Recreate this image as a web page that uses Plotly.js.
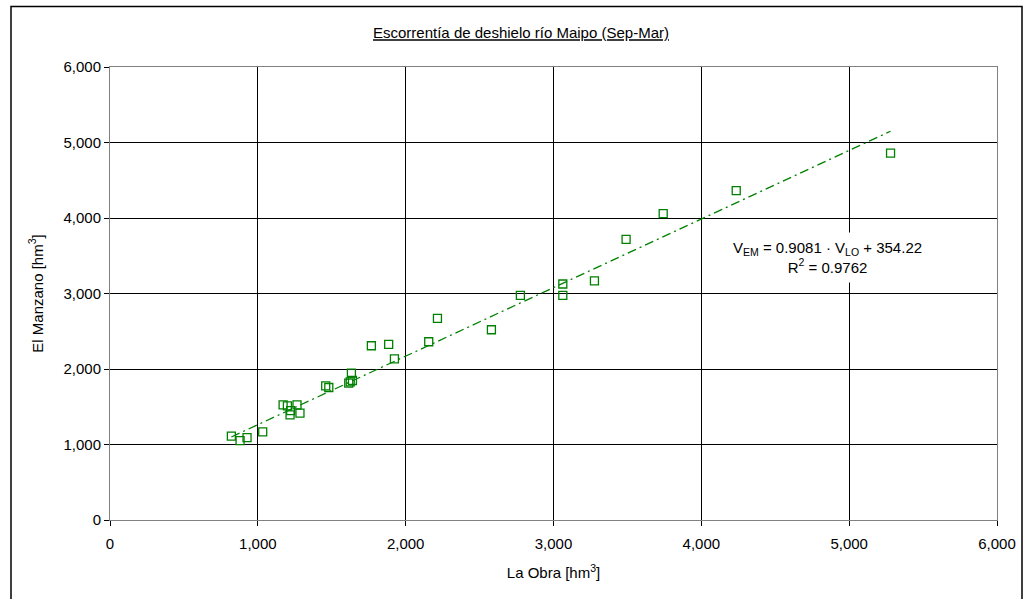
<!DOCTYPE html>
<html>
<head>
<meta charset="utf-8">
<script src="https://cdn.plot.ly/plotly-3.0.1.min.js"></script>
<style>html,body{margin:0;padding:0;background:#fff;}#chart{width:1033px;height:599px;}</style>
</head>
<body>
<div id="chart"></div>
<script>
// Data (hm³)
const laObra    = [821, 880, 927, 1033, 1171, 1200, 1265, 1218, 1222, 1285, 1459, 1480, 1615, 1625, 1640, 1633, 1768, 1885, 1924, 2156, 2215, 2580, 2776, 3063, 3063, 3277, 3491, 3742, 4236, 5280];
const elManzano = [1110, 1052, 1092, 1167, 1525, 1512, 1525, 1393, 1450, 1415, 1777, 1755, 1813, 1830, 1848, 1945, 2308, 2325, 2135, 2361, 2670, 2520, 2975, 3126, 2975, 3166, 3718, 4058, 4363, 4858];
const slope = 0.9081;
const intercept = 354.22;
const tickVals = [0, 1000, 2000, 3000, 4000, 5000, 6000];
const tickText = ['0', '1,000', '2,000', '3,000', '4,000', '5,000', '6,000'];

const xMin = Math.min(...laObra), xMax = Math.max(...laObra);
const trendX = [xMin, xMax];
const trendY = trendX.map(v => slope * v + intercept);

const green = '#008000';
const fam = 'Liberation Sans, Arial, sans-serif';
const font = {family: fam, size: 15, color: '#000'};

const traces = [
  {
    x: trendX, y: trendY, mode: 'lines', type: 'scatter',
    line: {color: green, width: 1.3, dash: '9px,4px,2px,4px'},
    hoverinfo: 'skip', showlegend: false
  },
  {
    x: laObra, y: elManzano, mode: 'markers', type: 'scatter',
    marker: {symbol: 'square-open', size: 8, color: green, line: {color: green, width: 1.3}},
    showlegend: false
  }
];

const axisCommon = {
  range: [0, 6000], tickvals: tickVals, ticktext: tickText,
  showgrid: true, gridcolor: '#000', gridwidth: 1,
  zeroline: false, showline: true, mirror: true, linecolor: '#808080', linewidth: 1,
  ticks: 'outside', ticklen: 5, tickcolor: '#000', tickfont: font, automargin: false
};

const layout = {
  width: 1033, height: 599,
  margin: {l: 110, r: 36, t: 67, b: 79},
  paper_bgcolor: '#fff', plot_bgcolor: '#fff',
  font: font,
  title: {
    text: '<u>Escorrentía de deshielo río Maipo (Sep-Mar)</u>',
    font: {family: fam, size: 15, color: '#000'},
    x: 521 / 1033, xref: 'container', xanchor: 'center', y: 1 - 33/599, yanchor: 'middle'
  },
  xaxis: Object.assign({}, axisCommon, {
    ticklabelstandoff: 5,
    title: {text: 'La Obra [hm<sup>3</sup>]', font: font, standoff: 16}
  }),
  yaxis: Object.assign({}, axisCommon, {
    title: {text: 'El Manzano [hm<sup>3</sup>]', font: font, standoff: 16}
  }),
  annotations: [{
    x: 4851, y: 3480, xref: 'x', yref: 'y',
    text: 'V<sub>EM</sub> = 0.9081 · V<sub>LO</sub> + 354.22<br>R<sup>2</sup> = 0.9762',
    showarrow: false, align: 'center', bgcolor: '#fff', borderpad: 6,
    font: {family: fam, size: 15, color: '#000'}
  }],
  shapes: [{
    type: 'rect', xref: 'paper', yref: 'paper',
    x0: (11 - 110) / 887, x1: (1022 - 110) / 887,
    y0: (520 - 610) / 453, y1: (520 - 6.5) / 453,
    line: {color: '#000', width: 1.5}, fillcolor: 'rgba(0,0,0,0)', layer: 'below'
  }]
};

Plotly.newPlot('chart', traces, layout, {displayModeBar: false, staticPlot: true});
</script>
</body>
</html>
